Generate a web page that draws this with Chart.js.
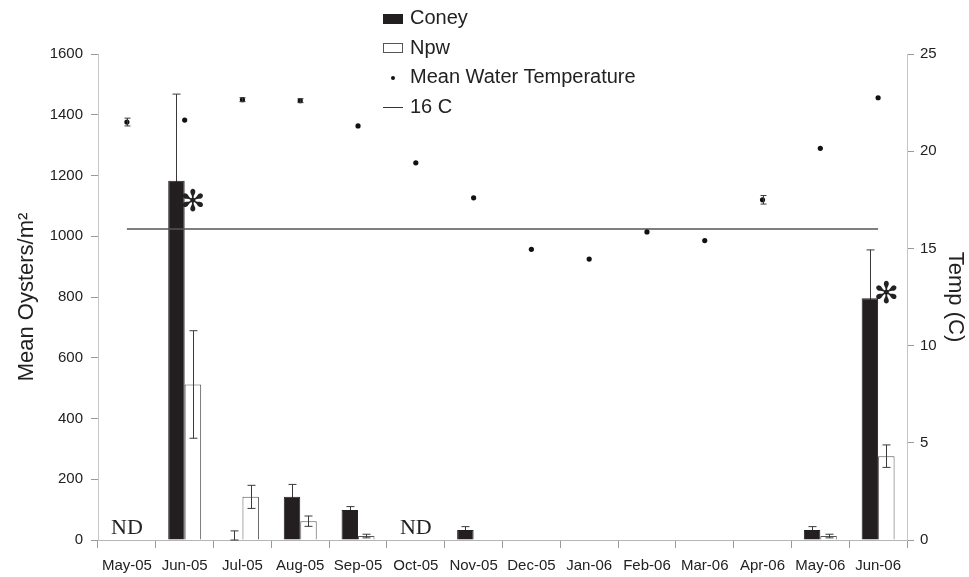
<!DOCTYPE html>
<html>
<head>
<meta charset="utf-8">
<script src="https://cdn.jsdelivr.net/npm/chart.js@4.4.0/dist/chart.umd.min.js"></script>
<style>
  body { margin: 0; background: #fff; }
  #wrap { position: relative; width: 969px; height: 577px; }
  #legend { position: absolute; left: 383px; top: 3px; font-family: 'Liberation Sans', Arial, sans-serif; font-size: 20px; color: #222; }
  #legend div { height: 29.5px; line-height: 29.5px; white-space: nowrap; }
  #legend span.sym { display: inline-block; width: 20px; vertical-align: middle; margin-right: 7px; box-sizing: border-box; }
</style>
</head>
<body>
<div id="wrap">
  <canvas id="oysterChart" width="969" height="577"></canvas>
  <div id="legend">
    <div><span class="sym" style="height:10px;background:#231f20;"></span>Coney</div>
    <div><span class="sym" style="height:10px;border:1px solid #555;background:#fff;"></span>Npw</div>
    <div><span class="sym" style="height:4px;"><span style="display:block;width:4px;height:4px;border-radius:2px;background:#111;margin-left:8px;"></span></span>Mean Water Temperature</div>
    <div><span class="sym" style="height:1px;background:#333;"></span>16 C</div>
  </div>
</div>
<script>
const months = ['May-05', 'Jun-05', 'Jul-05', 'Aug-05', 'Sep-05', 'Oct-05', 'Nov-05', 'Dec-05', 'Jan-06', 'Feb-06', 'Mar-06', 'Apr-06', 'May-06', 'Jun-06'];
const coney = [null, 1183, 0, 142, 99, null, 33, 0, 0, 0, 0, 0, 33, 796];
const coneyErr = [0, 285, 30, 41, 11, 0, 11, 0, 0, 0, 0, 0, 11, 159];
const npw = [null, 512, 142, 62, 13, null, 0, 0, 0, 0, 0, 0, 13, 276];
const npwErr = [0, 177, 38, 17, 6, 0, 0, 0, 0, 0, 0, 0, 6, 37];
const waterTemp = [21.5, 21.6, 22.65, 22.6, 21.3, 19.4, 17.6, 14.95, 14.45, 15.85, 15.4, 17.5, 20.15, 22.75];
const waterTempErr = [0.2, 0, 0.1, 0.1, 0, 0, 0, 0, 0, 0, 0, 0.22, 0, 0];
const threshold = months.map(() => 16);
const ndMonths = ['May-05', 'Oct-05'];
const sigMonths = ['Jun-05', 'Jun-06'];
const sigLevels = [1110, 805];

const FONT = "'Liberation Sans', Arial, sans-serif";

function drawCapLine(ctx, x, yTop, yBot, cap) {
    ctx.beginPath();
    ctx.moveTo(x, yTop); ctx.lineTo(x, yBot);
    ctx.moveTo(x - cap, yTop); ctx.lineTo(x + cap, yTop);
    ctx.moveTo(x - cap, yBot); ctx.lineTo(x + cap, yBot);
    ctx.stroke();
}

function drawBarErrors(chart, idx, vals, errs) {
    const ctx = chart.ctx;
    const y = chart.scales.y;
    ctx.save();
    ctx.strokeStyle = '#3a3a3a';
    ctx.lineWidth = 1;
    chart.getDatasetMeta(idx).data.forEach((el, i) => {
        if (!errs[i]) return;
        const v = vals[i] || 0;
        drawCapLine(ctx, Math.round(el.x) + 0.5, y.getPixelForValue(v + errs[i]), y.getPixelForValue(Math.max(0, v - errs[i])), 4);
    });
    ctx.restore();
}

const errorBars = {
    id: 'errorBars',
    beforeDatasetsDraw(chart) {
        // Coney whiskers go under the black bars, so only the upper part shows
        drawBarErrors(chart, 0, coney, coneyErr);
    },
    afterDatasetsDraw(chart) {
        const ctx = chart.ctx;
        const y = chart.scales.y;
        const y2 = chart.scales.y2;
        const x = chart.scales.x;
        drawBarErrors(chart, 1, npw, npwErr);
        ctx.save();
        ctx.strokeStyle = '#3a3a3a';
        ctx.lineWidth = 1;
        chart.getDatasetMeta(2).data.forEach((el, i) => {
            if (!waterTempErr[i]) return;
            drawCapLine(ctx, Math.round(el.x) + 0.5, y2.getPixelForValue(waterTemp[i] + waterTempErr[i]), y2.getPixelForValue(waterTemp[i] - waterTempErr[i]), 3);
        });

        // ND labels
        ctx.fillStyle = '#222';
        ctx.font = "22px 'Liberation Serif', 'Times New Roman', serif";
        ctx.textAlign = 'center';
        ctx.textBaseline = 'middle';
        ndMonths.forEach(m => {
            const i = months.indexOf(m);
            ctx.fillText('ND', x.getPixelForValue(i), y.getPixelForValue(40));
        });

        // significance asterisks beside the Npw bar
        ctx.font = "30px 'DejaVu Sans', sans-serif";
        const npwMeta = chart.getDatasetMeta(1);
        sigMonths.forEach((m, k) => {
            const i = months.indexOf(m);
            ctx.fillText('\u273B', npwMeta.data[i].x, y.getPixelForValue(sigLevels[k]));
        });
        ctx.restore();
    }
};

new Chart(document.getElementById('oysterChart'), {
    type: 'bar',
    data: {
        labels: months,
        datasets: [{
            label: 'Coney',
            data: coney,
            backgroundColor: '#231f20',
            borderColor: '#231f20',
            borderWidth: 1,
            yAxisID: 'y',
            order: 2
        }, {
            label: 'Npw',
            data: npw,
            backgroundColor: '#ffffff',
            borderColor: '#555555',
            borderWidth: 1,
            yAxisID: 'y',
            order: 2
        }, {
            type: 'line',
            label: 'Mean Water Temperature',
            data: waterTemp,
            showLine: false,
            pointRadius: 2.6,
            pointBackgroundColor: '#111',
            pointBorderWidth: 0,
            yAxisID: 'y2',
            order: 1
        }, {
            type: 'line',
            label: '16 C',
            data: threshold,
            borderColor: '#555',
            borderWidth: 1.5,
            pointRadius: 0,
            yAxisID: 'y2',
            order: 1
        }]
    },
    options: {
        responsive: false,
        animation: false,
        events: [],
        layout: { padding: { top: 54, left: 14, right: 0, bottom: 0 } },
        datasets: {
            bar: { categoryPercentage: 0.57, barPercentage: 1 }
        },
        plugins: {
            legend: { display: false },
            tooltip: { enabled: false }
        },
        scales: {
            x: {
                grid: { offset: true, drawOnChartArea: false, color: '#9a9a9a', tickLength: 8 },
                border: { color: '#b5b5b5' },
                ticks: { color: '#222', font: { family: FONT, size: 15 }, maxRotation: 0, autoSkip: false, padding: 9 },
                afterFit(s) { s.height = 37; }
            },
            y: {
                position: 'left',
                min: 0,
                max: 1600,
                grid: { drawOnChartArea: false, color: '#9a9a9a', tickLength: 7 },
                border: { color: '#c5c5c5' },
                ticks: { stepSize: 200, color: '#222', font: { family: FONT, size: 15 }, padding: 8, callback: v => String(v) },
                title: { display: true, text: 'Mean Oysters/m\u00B2', color: '#222', font: { family: FONT, size: 22 }, padding: { top: 0, bottom: 4 } },
                afterFit(s) { s.width = 84; }
            },
            y2: {
                position: 'right',
                min: 0,
                max: 25,
                grid: { drawOnChartArea: false, color: '#9a9a9a', tickLength: 7 },
                border: { color: '#c5c5c5' },
                ticks: { stepSize: 5, color: '#222', font: { family: FONT, size: 15 }, padding: 6 },
                title: { display: true, text: 'Temp (C)', color: '#222', font: { family: FONT, size: 22 }, padding: { top: 1, bottom: 0 } },
                afterFit(s) { s.width = 62; }
            }
        }
    },
    plugins: [errorBars]
});
</script>
</body>
</html>
